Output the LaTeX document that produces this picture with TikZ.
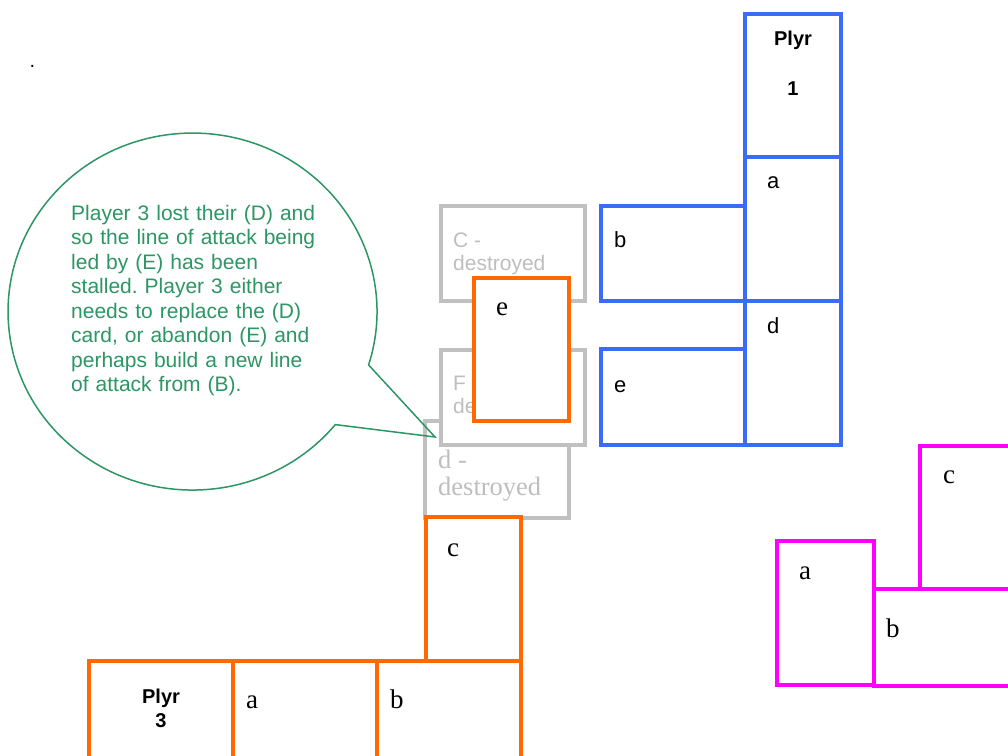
\documentclass[tikz,border=0pt]{standalone}
\usepackage{fontspec}
\setmainfont{Liberation Serif}
\newfontfamily\arialf{Liberation Sans}
\definecolor{pblue}{RGB}{60,108,245}
\definecolor{porange}{RGB}{255,106,0}
\definecolor{pmag}{RGB}{255,0,255}
\definecolor{pgrey}{RGB}{192,192,192}
\definecolor{pgreytext}{RGB}{190,190,190}
\definecolor{pgreen}{RGB}{44,150,100}
\frenchspacing
\begin{document}
\begin{tikzpicture}[x=1pt,y=-1pt,
  card/.style={line width=4.5pt, fill=white},
  serlbl/.style={anchor=base west, inner sep=0pt, font=\fontsize{27}{30}\selectfont},
  sanslbl/.style={anchor=base west, inner sep=0pt, font=\arialf\fontsize{22}{26}\selectfont},
  plyrlbl/.style={anchor=base, inner sep=0pt, font=\arialf\bfseries\fontsize{20}{24}\selectfont},
  greysans/.style={anchor=base west, inner sep=0pt, text=pgreytext, font=\arialf\fontsize{21}{24}\selectfont},
  greyser/.style={anchor=base west, inner sep=0pt, text=pgreytext, font=\fontsize{26.5}{30}\selectfont}]
\clip (0,0) rectangle (1008,755);
\fill[white] (0,0) rectangle (1008,755);

% dot
\node[anchor=base west, inner sep=0pt, font=\arialf\fontsize{20}{24}\selectfont] (dot) at (29.5,67) {.};

% grey destroyed cards
\draw[card, draw=pgrey] (425,421) rectangle (569,518);
\node[greyser] (dd1) at (438,468) {d -};
\node[greyser] (dd2) at (438,495) {destroyed};
\draw[card, draw=pgrey] (441,206) rectangle (585,301);
\node[greysans] (cc1) at (453,247) {C -};
\node[greysans] (cc2) at (453,270) {destroyed};
\draw[card, draw=pgrey] (441,350) rectangle (585,445);
\node[greysans] (ff1) at (453,390) {F -};
\node[greysans] (ff2) at (453,413) {destroyed};

% callout
\draw[pgreen, line width=1.5pt] (335.3,424.6)
  arc[start angle=39.3, end angle=377.4, x radius=184.5, y radius=178.5]
  -- (435,437) -- cycle;
\node[anchor=base west, inner sep=0pt, text=pgreen, text width=300pt, align=left,
  font=\arialf\fontsize{21}{24.5}\selectfont] (note) at (71,220)
  {Player 3 lost their (D) and\\so the line of attack being\\led by (E) has been\\stalled. Player 3 either\\needs to replace the (D)\\card, or abandon (E) and\\perhaps build a new line\\of attack from (B).};

% player 1 (blue)
\draw[card, draw=pblue] (745,14) rectangle (841,157);
\draw[card, draw=pblue] (745,157) rectangle (841,301);
\draw[card, draw=pblue] (745,301) rectangle (841,445);
\draw[card, draw=pblue] (601,206) rectangle (745,301);
\draw[card, draw=pblue] (601,349) rectangle (745,445);
\node[plyrlbl] (p1a) at (793,45) {Plyr};
\node[plyrlbl] (p1b) at (793,95) {1};
\node[sanslbl] (b1a) at (767,188) {a};
\node[sanslbl] (b1d) at (767,333) {d};
\node[sanslbl] (b1b) at (614,247) {b};
\node[sanslbl] (b1e) at (614,392) {e};

% player 3 (orange)
\draw[card, draw=porange] (474,278) rectangle (569,421);
\node[serlbl] (o3e) at (496,315) {e};
\draw[card, draw=porange] (426,517) rectangle (521,661);
\node[serlbl] (o3c) at (447,556) {c};
\draw[card, draw=porange] (89,661) rectangle (233,790);
\draw[card, draw=porange] (233,661) rectangle (377,790);
\draw[card, draw=porange] (377,661) rectangle (521,790);
\node[plyrlbl] (p3a) at (161,703) {Plyr};
\node[plyrlbl] (p3b) at (161,727) {3};
\node[serlbl] (o3a) at (246,708) {a};
\node[serlbl] (o3b) at (390,708) {b};

% magenta player
\draw[card, draw=pmag] (920,446) rectangle (1030,589);
\draw[card, draw=pmag] (777,541) rectangle (874,685);
\draw[card, draw=pmag] (874,589) rectangle (1030,686);
\node[serlbl] (m1a) at (799,579) {a};
\node[serlbl] (m1b) at (886,637) {b};
\node[serlbl] (m1c) at (943,483) {c};
\end{tikzpicture}
\end{document}
